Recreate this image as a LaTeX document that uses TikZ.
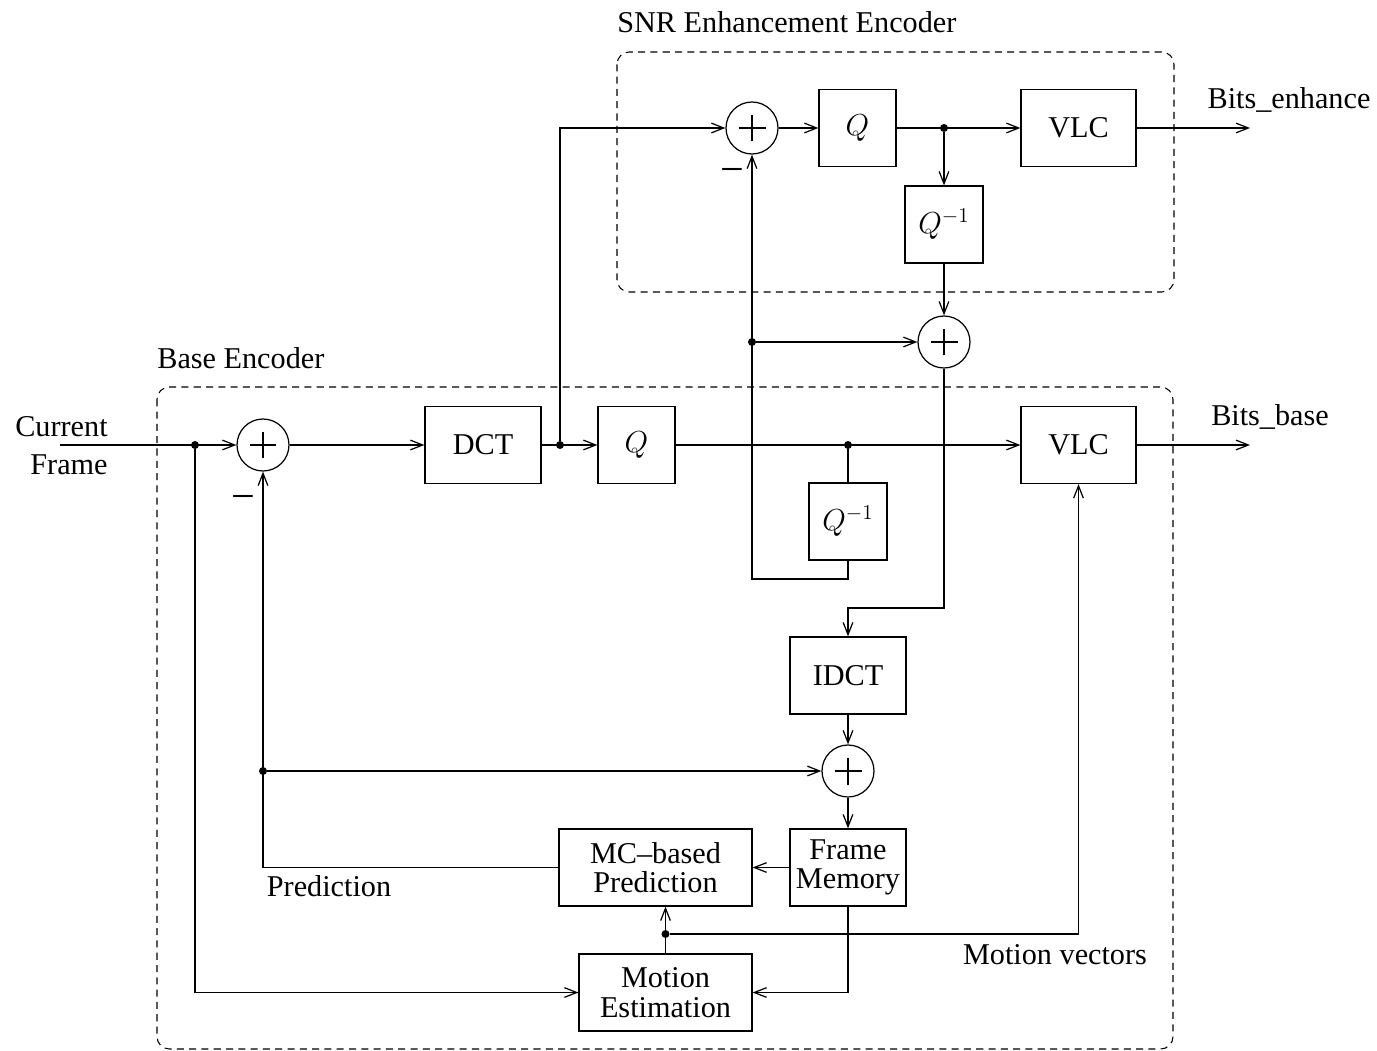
\documentclass[tikz,border=0pt]{standalone}
\usepackage{fontspec}
\setmainfont{Liberation Serif}
\usetikzlibrary{arrows.meta}
\newcommand{\qinv}{$Q^{\mbox{\fontsize{12.5}{14}\selectfont$-1$}}$}
\begin{document}
\begin{tikzpicture}[x=0.02cm,y=-0.02cm,
  every node/.style={font=\fontsize{17.2}{21}\selectfont},
  blk/.style={draw, line width=0.7pt, minimum height=1.54cm, inner sep=0pt, align=center, font=\fontsize{17.2}{16.7}\selectfont},
  mq/.style={font=\fontsize{16}{18}\selectfont},
  sum/.style={circle, draw, line width=0.7pt, minimum size=1.04cm, inner sep=0pt,
    path picture={\draw[line width=1.2pt] (path picture bounding box.center) ++(-0.27cm,0) -- ++(0.54cm,0);
                  \draw[line width=1.2pt] (path picture bounding box.center) ++(0,-0.27cm) -- ++(0,0.54cm);}},
  dot/.style={circle, fill, inner sep=0pt, minimum size=0.16cm},
  arr/.style={-{Straight Barb[length=7pt,width=5.5pt]}, line width=0.7pt},
  wire/.style={line width=0.7pt},
  enc/.style={draw, dash pattern=on 4pt off 3pt, rounded corners=7pt, line width=0.6pt},
  lbl/.style={inner sep=0pt},
  minus/.style={inner sep=0pt, font=\fontsize{24}{26}\selectfont}
]
\useasboundingbox (0,0) rectangle (1377,1051);

% enclosures
\draw[enc] (617,52) rectangle (1174,292);
\draw[enc] (157,387) rectangle (1173,1049);
\node[lbl, anchor=west] (tsnr) at (617,22) {SNR Enhancement Encoder};
\node[lbl, anchor=west] (tbase) at (157,358) {Base Encoder};

% sums
\node[sum] (s1) at (752,128) {};
\node[sum] (s2) at (944,342) {};
\node[sum] (s3) at (263,445) {};
\node[sum] (s4) at (848,771) {};

% blocks
\node[blk, minimum width=2.32cm] (dct) at (483,445) {DCT};
\node[blk, mq, minimum width=1.54cm] (qb) at (636.5,445) {$Q$};
\node[blk, mq, minimum width=1.54cm] (qt) at (857.5,128) {$Q$};
\node[blk, minimum width=2.3cm] (vlct) at (1078.5,128) {VLC};
\node[blk, minimum width=2.3cm] (vlcb) at (1078.5,445) {VLC};
\node[blk, mq, minimum width=1.56cm] (qit) at (944,224.5) {\qinv};
\node[blk, mq, minimum width=1.56cm] (qib) at (848,521.5) {\qinv};
\node[blk, minimum width=2.32cm] (idct) at (848,675.5) {IDCT};
\node[blk, minimum width=2.32cm] (fm) at (848,867.5) {Frame\\Memory};
\node[blk, minimum width=3.86cm] (mc) at (655.5,867.5) {MC{\textendash}based\\Prediction};
\node[blk, minimum width=3.46cm] (me) at (665.5,992.5) {Motion\\Estimation};

% dots
\node[dot] (d1) at (195,445) {};
\node[dot] (d2) at (560,445) {};
\node[dot] (d3) at (944,128) {};
\node[dot] (d4) at (752,342) {};
\node[dot] (d5) at (848,445) {};
\node[dot] (d6) at (263,771) {};
\node[dot] (d7) at (665.5,934) {};

% free ends / bends
\coordinate (cin) at (60,445);
\coordinate (be) at (1250,128);
\coordinate (bb) at (1250,445);
\coordinate (k1) at (944,608);
\coordinate (k2) at (848,579);

% labels
\node[lbl, align=right, anchor=east, font=\fontsize{17.2}{21.5}\selectfont] (tcf) at (108,446) {Current\\Frame};
\node[lbl] (tbe) at (1289,100) {Bits\_enhance};
\node[lbl] (tbb) at (1270,417) {Bits\_base};
\node[lbl] (tpred) at (329,886) {Prediction};
\node[lbl] (tmv) at (1055,955) {Motion vectors};
\node[minus] (m1) at (732,176) {−};
\node[minus] (m3) at (243,503) {−};

% connectors
\draw[arr] (cin) -- (s3.west);
\draw[arr] (s3.east) -- (dct.west);
\draw[arr] (dct.east) -- (qb.west);
\draw[arr] (d2) |- (s1.west);
\draw[arr] (s1.east) -- (qt.west);
\draw[arr] (qt.east) -- (vlct.west);
\draw[arr] (d3) -- (qit.north);
\draw[arr] (vlct.east) -- (be);
\draw[arr] (qit.south) -- (s2.north);
\draw[arr] (qib.south) -- (k2) -| (s1.south);
\draw[arr] (d4) -- (s2.west);
\draw[arr] (s2.south) -- (k1) -| (idct.north);
\draw[arr] (qb.east) -- (vlcb.west);
\draw[wire] (d5) -- (qib.north);
\draw[arr] (vlcb.east) -- (bb);
\draw[arr] (idct.south) -- (s4.north);
\draw[arr] (s4.south) -- (fm.north);
\draw[arr] (fm.west) -- (mc.east);
\draw[arr] (mc.west) -| (s3.south);
\draw[arr] (d6) -- (s4.west);
\draw[wire] (me.north) -- (d7);
\draw[arr] (d7) -- (d7 |- mc.south);
\draw[arr] (d7) -| (vlcb.south);
\draw[arr] (fm.south) |- (me.east);
\draw[arr] (d1) |- (me.west);
\end{tikzpicture}
\end{document}
